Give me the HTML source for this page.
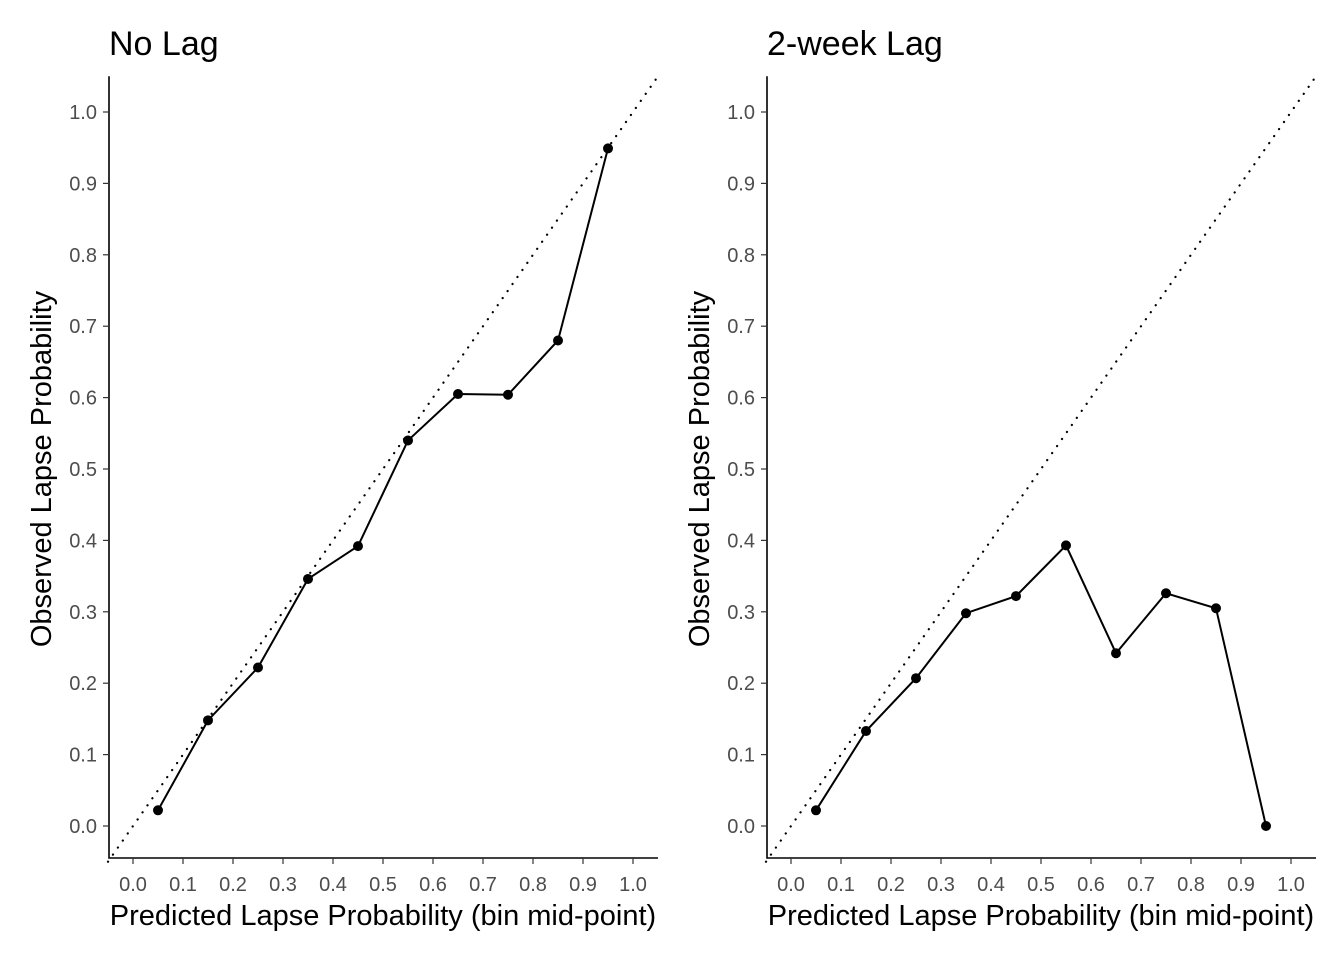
<!DOCTYPE html>
<html><head><meta charset="utf-8"><style>body{margin:0;background:#fff}svg{display:block}</style></head>
<body>
<svg id="c" width="1344" height="960" xmlns="http://www.w3.org/2000/svg" font-family="Liberation Sans, sans-serif"></svg>
<script>
const binMid=[0.05,0.15,0.25,0.35,0.45,0.55,0.65,0.75,0.85,0.95];
const noLagObs=[0.022,0.148,0.222,0.346,0.392,0.540,0.605,0.604,0.680,0.949];
const lagObs=[0.022,0.133,0.207,0.298,0.322,0.393,0.242,0.326,0.305,0.0];
const ticks=[0,0.1,0.2,0.3,0.4,0.5,0.6,0.7,0.8,0.9,1.0];
const tickLabels=["0.0","0.1","0.2","0.3","0.4","0.5","0.6","0.7","0.8","0.9","1.0"];
const svg=document.getElementById('c');const NS='http://www.w3.org/2000/svg';
function mk(t,a,p,txt){const e=document.createElementNS(NS,t);for(const k in a)e.setAttribute(k,a[k]);if(txt!==undefined)e.textContent=txt;(p||svg).appendChild(e);return e;}
function panel(x0,title,obs,name){
 const g=mk('g',{});
 
 
 const X=v=>x0+24+v*500, Y=v=>826-v*714;
 const t=mk('text',{x:x0,y:55,'font-size':34,fill:'#000'},g,title);
 
 const ax=mk('path',{d:`M${x0} ${Y(1.05)}V858H${X(1.05)}`,stroke:'#000','stroke-width':1.6,fill:'none'},g);
 
 ticks.forEach((v,i)=>{
  mk('line',{x1:x0-6,x2:x0,y1:Y(v),y2:Y(v),stroke:'#333','stroke-width':1.2},g);
  const yl=mk('text',{x:x0-12,y:Y(v)+7,'font-size':20,fill:'#4d4d4d','text-anchor':'end'},g,tickLabels[i]);
  
  mk('line',{x1:X(v),x2:X(v),y1:858,y2:864,stroke:'#333','stroke-width':1.2},g);
  const xl=mk('text',{x:X(v),y:891,'font-size':20,fill:'#4d4d4d','text-anchor':'middle'},g,tickLabels[i]);
  
 });
 const d=mk('line',{x1:X(-0.05),y1:Y(-0.05),x2:X(1.05),y2:Y(1.05),stroke:'#000','stroke-width':2.2,'stroke-dasharray':'0.1 8.5','stroke-linecap':'round'},g);
 
 const l=mk('polyline',{points:binMid.map((m,i)=>X(m)+','+Y(obs[i])).join(' '),fill:'none',stroke:'#000','stroke-width':2},g);
 
 binMid.forEach((m,i)=>{const c=mk('circle',{cx:X(m),cy:Y(obs[i]),r:5,fill:'#000'},g);
  });
 const xt=mk('text',{x:X(0.5),y:925,'font-size':29,fill:'#000','text-anchor':'middle'},g,'Predicted Lapse Probability (bin mid-point)');
 
 const yt=mk('text',{x:0,y:0,'font-size':29,fill:'#000','text-anchor':'middle',transform:`translate(${x0-58},${Y(0.5)}) rotate(-90)`},g,'Observed Lapse Probability');
 
}
panel(109,'No Lag',noLagObs,'panel-no-lag');
panel(767,'2-week Lag',lagObs,'panel-2-week-lag');
</script>
</body></html>
